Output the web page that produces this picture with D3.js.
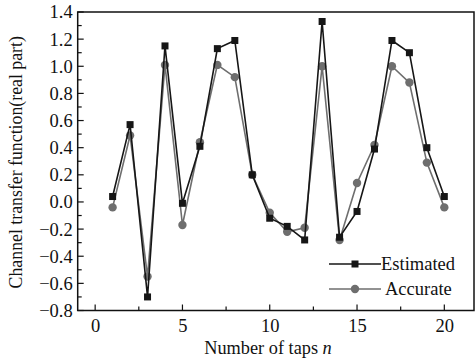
<!DOCTYPE html>
<html><head><meta charset="utf-8">
<script src="https://cdn.jsdelivr.net/npm/d3@7"></script>
<style>body{margin:0;background:#fff}svg{display:block}svg text{font-family:"Liberation Serif","Times New Roman",serif !important;fill:#111}</style>
</head><body><svg id="c" width="475" height="358"></svg>
<script>
const taps = [1,2,3,4,5,6,7,8,9,10,11,12,13,14,15,16,17,18,19,20];
const estimated = [0.04,0.57,-0.70,1.15,-0.01,0.41,1.13,1.19,0.20,-0.12,-0.18,-0.28,1.33,-0.26,-0.07,0.39,1.19,1.10,0.40,0.04];
const accurate  = [-0.04,0.49,-0.55,1.01,-0.17,0.44,1.01,0.92,0.20,-0.08,-0.22,-0.19,1.00,-0.28,0.14,0.42,1.00,0.88,0.29,-0.04];
const xTicks = [0,5,10,15,20];
const yTicks = [-0.8,-0.6,-0.4,-0.2,0.0,0.2,0.4,0.6,0.8,1.0,1.2,1.4];

const svg = d3.select("#c");
const FF = '"Liberation Serif","Times New Roman",serif';
const L=77.7,R=474,T=12,B=310.5;
const x = d3.scaleLinear().domain([-1,21.7]).range([L,R]);
const y = d3.scaleLinear().domain([-0.8,1.4]).range([B,T]);

svg.append("rect").attr("x",L).attr("y",T).attr("width",R-L).attr("height",B-T)
  .attr("fill","none").attr("stroke","#111").attr("stroke-width",1.5);

const xa = svg.append("g").attr("transform",`translate(0,${B})`)
  .call(d3.axisBottom(x).tickValues(xTicks).tickFormat(d3.format("d")).tickSize(0).tickPadding(8));
xa.attr("font-family",FF).attr("font-size",18.5);
xa.select(".domain").remove();
xa.selectAll("text").attr("fill","#111");
const xMinor = d3.range(0,21.7,2.5);
svg.append("g").selectAll("line").data(xMinor).join("line")
  .attr("x1",d=>x(d)).attr("x2",d=>x(d)).attr("y1",B).attr("y2",d=>B-(d%5===0?6:4))
  .attr("stroke","#111").attr("stroke-width",1.2);

const ya = svg.append("g").attr("transform",`translate(${L},0)`)
  .call(d3.axisLeft(y).tickValues(yTicks).tickFormat(d=>d3.format(".1f")(d).replace("-","\u2212")).tickSize(0).tickPadding(5));
ya.attr("font-family",FF).attr("font-size",18.5);
ya.select(".domain").remove();
ya.selectAll("text").attr("fill","#111");
const yMinor = d3.range(-8,14.5,1).map(d=>d/10);
svg.append("g").selectAll("line").data(yMinor).join("line")
  .attr("x1",L).attr("x2",(d,i)=>L+(i%2===0?6:4)).attr("y1",d=>y(d)).attr("y2",d=>y(d))
  .attr("stroke","#111").attr("stroke-width",1.2);

svg.append("text").attr("x",268).attr("y",354).attr("text-anchor","middle").attr("font-size",18.3)
  .attr("font-family",FF).html('Number of taps <tspan font-style="italic">n</tspan>');
svg.append("text").attr("transform",`translate(22,${(T+B)/2+1}) rotate(-90)`).attr("text-anchor","middle")
  .attr("font-family",FF).attr("font-size",17.8).text("Channel transfer function(real part)");

const line = d3.line().x((d,i)=>x(taps[i])).y(d=>y(d));
const accC="#6e6e6e", estC="#161616";
svg.append("path").datum(accurate).attr("d",line).attr("fill","none").attr("stroke",accC).attr("stroke-width",1.6);
svg.append("g").selectAll("circle").data(accurate).join("circle")
  .attr("cx",(d,i)=>x(taps[i])).attr("cy",d=>y(d)).attr("r",4.2).attr("fill",accC);
svg.append("path").datum(estimated).attr("d",line).attr("fill","none").attr("stroke",estC).attr("stroke-width",1.6);
svg.append("g").selectAll("rect").data(estimated).join("rect")
  .attr("x",(d,i)=>x(taps[i])-3.5).attr("y",d=>y(d)-3.5).attr("width",7).attr("height",7).attr("fill",estC);

const lg = svg.append("g").attr("font-family",FF);
lg.append("line").attr("x1",329).attr("x2",381).attr("y1",264).attr("y2",264).attr("stroke",estC).attr("stroke-width",1.6);
lg.append("rect").attr("x",355-3.5).attr("y",264-3.5).attr("width",7).attr("height",7).attr("fill",estC);
lg.append("text").attr("x",381).attr("y",270).attr("font-size",18.5).text("Estimated");
lg.append("line").attr("x1",329).attr("x2",381).attr("y1",289).attr("y2",289).attr("stroke",accC).attr("stroke-width",1.6);
lg.append("circle").attr("cx",355).attr("cy",289).attr("r",4.2).attr("fill",accC);
lg.append("text").attr("x",385).attr("y",295).attr("font-size",18.5).text("Accurate");
</script></body></html>
